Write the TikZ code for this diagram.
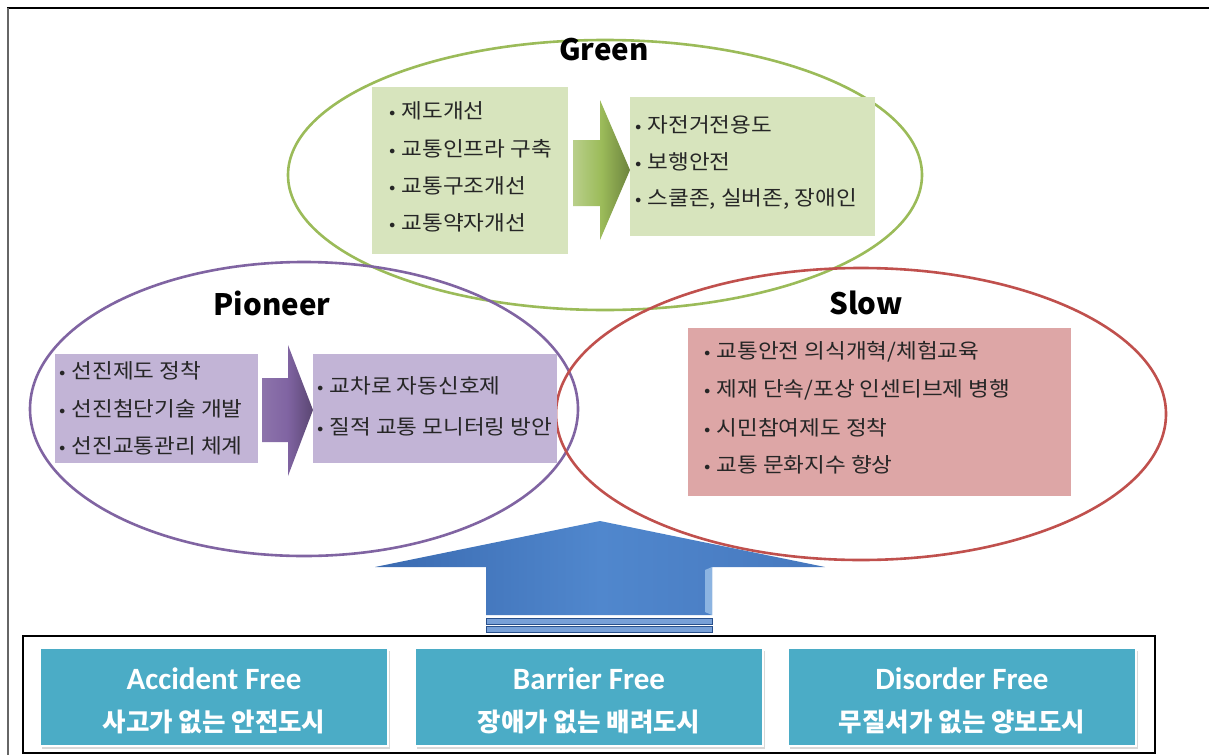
\documentclass[tikz,border=0pt]{standalone}
\usepackage{fontspec}
\setmainfont{Noto Sans CJK KR}
\newfontfamily\krw[FakeStretch=1.1]{Noto Sans CJK KR}
\newfontfamily\calfont{Carlito}
\definecolor{gline}{HTML}{9BBB59}
\definecolor{pline}{HTML}{8064A2}
\definecolor{rline}{HTML}{C0504D}
\definecolor{gfill}{HTML}{D7E4BD}
\definecolor{pfill}{HTML}{C2B4D6}
\definecolor{rfill}{HTML}{DDA6A6}
\definecolor{teal}{HTML}{4BACC6}
\definecolor{txt}{HTML}{262626}
\definecolor{bluea}{RGB}{58,106,176}
\definecolor{blueb}{RGB}{70,120,190}
\definecolor{bluec}{RGB}{80,135,205}
\definecolor{blueh}{RGB}{140,180,225}
\definecolor{blues}{RGB}{120,160,215}
\definecolor{bluedk}{RGB}{40,80,140}
\usetikzlibrary{shadows}
\tikzset{
  ell/.style={line width=2.6pt},
  panel/.style={inner sep=0pt, anchor=north west, draw=none},
  item/.style={anchor=west, inner sep=0pt, font=\krw\fontsize{20.5}{24}\selectfont, text=txt},
  title/.style={inner sep=0pt, font=\bfseries\fontsize{29.5}{32}\selectfont, text=black},
  freebox/.style={fill=teal, draw=white, line width=1.5pt, inner sep=0pt, minimum width=348pt, minimum height=98pt,
     drop shadow={shadow xshift=2pt, shadow yshift=-3pt, fill=black!30}},
  en/.style={inner sep=0pt, text=white, font=\calfont\bfseries\fontsize{31}{34}\selectfont},
  ko/.style={inner sep=0pt, text=white, font=\bfseries\fontsize{25.5}{28}\selectfont},
  stripe/.style={fill=blues, draw=bluedk, line width=0.7pt},
}
\newcommand{\bl}{{\fontsize{17}{17}\selectfont\raisebox{0.5pt}{•}}\hspace{6pt}}
\begin{document}
\begin{tikzpicture}[x=1pt,y=-1pt]
\useasboundingbox (0,0) rectangle (1209,755);
\fill[white] (0,0) rectangle (1209,755);
% outer frame
\draw[line width=1.6pt, black] (7,8) -- (1209,8);
\draw[line width=1.6pt, black!60] (8,8) -- (8,755);

% ellipses
\draw[ell, gline] (605,175) ellipse [x radius=317pt, y radius=135pt];
\draw[ell, pline] (304,409) ellipse [x radius=274pt, y radius=147pt];
\draw[ell, rline] (861,414) ellipse [x radius=305pt, y radius=146pt];

% titles
\node[title] (tg) at (604,50) {Green};
\node[title] (tp) at (272,303) {Pioneer};
\node[title] (ts) at (866,303) {Slow};

% green panels
\node[panel, fill=gfill, minimum width=196pt, minimum height=167pt] (gl) at (372,87) {};
\node[panel, fill=gfill, minimum width=245pt, minimum height=139pt] (gr) at (630,97) {};
\node[item] (g1) at (389,111) {\bl 제도개선};
\node[item] (g2) at (389,149) {\bl 교통인프라 구축};
\node[item] (g3) at (389,186) {\bl 교통구조개선};
\node[item] (g4) at (389,223) {\bl 교통약자개선};
\node[item] (g5) at (635,125) {\bl 자전거전용도};
\node[item] (g6) at (635,162) {\bl 보행안전};
\node[item] (g7) at (635,199) {\bl 스쿨존, 실버존, 장애인};
\shade[left color=gline!70!white, right color=gline!70!black, middle color=gline]
  (573,140) -- (600,140) -- (600,100) -- (630,170) -- (600,240) -- (600,206) -- (573,206) -- cycle;

% purple panels
\node[panel, fill=pfill, minimum width=203pt, minimum height=109pt] (pl) at (55,354) {};
\node[panel, fill=pfill, minimum width=244pt, minimum height=109pt] (pr) at (313,354) {};
\node[item] (p1) at (59,371) {\bl 선진제도 정착};
\node[item] (p2) at (59,409) {\bl 선진첨단기술 개발};
\node[item] (p3) at (59,446) {\bl 선진교통관리 체계};
\node[item] (p4) at (317,386) {\bl 교차로 자동신호제};
\node[item] (p5) at (317,427) {\bl 질적 교통 모니터링 방안};
\shade[left color=pline!90!white, right color=pline!70!black, middle color=pline]
  (262,378) -- (288,378) -- (288,345) -- (313,410) -- (288,476) -- (288,442) -- (262,442) -- cycle;

% slow panel
\node[panel, fill=rfill, minimum width=383pt, minimum height=168pt] (rp) at (688,328) {};
\node[item] (r1) at (704,352) {\bl 교통안전 의식개혁/체험교육};
\node[item] (r2) at (704,390) {\bl 제재 단속/포상 인센티브제 병행};
\node[item] (r3) at (704,428) {\bl 시민참여제도 정착};
\node[item] (r4) at (704,465) {\bl 교통 문화지수 향상};

% blue up arrow
\shade[left color=bluea, right color=blueb, middle color=bluec]
  (375,567) -- (600,521) -- (825,567) -- (712,567) -- (712,615) -- (486,615) -- (486,567) -- cycle;
\fill[blueh] (705,570) -- (712,567) -- (712,615) -- (705,612) -- cycle;
\draw[stripe] (486,618) rectangle (712,624);
\draw[stripe] (486,626) rectangle (712,632);

% bottom frame
\draw[line width=2.4pt, black] (23,636) rectangle (1155,753);
\node[freebox] (b1) at (214,697) {};
\node[freebox] (b2) at (589,697) {};
\node[freebox] (b3) at (962,697) {};
\node[en] (e1) at (214,679) {Accident Free};
\node[en] (e2) at (589,679) {Barrier Free};
\node[en] (e3) at (962,679) {Disorder Free};
\node[ko] (k1) at (214,722) {사고가 없는 안전도시};
\node[ko] (k2) at (589,722) {장애가 없는 배려도시};
\node[ko] (k3) at (962,722) {무질서가 없는 양보도시};
\end{tikzpicture}
\end{document}
